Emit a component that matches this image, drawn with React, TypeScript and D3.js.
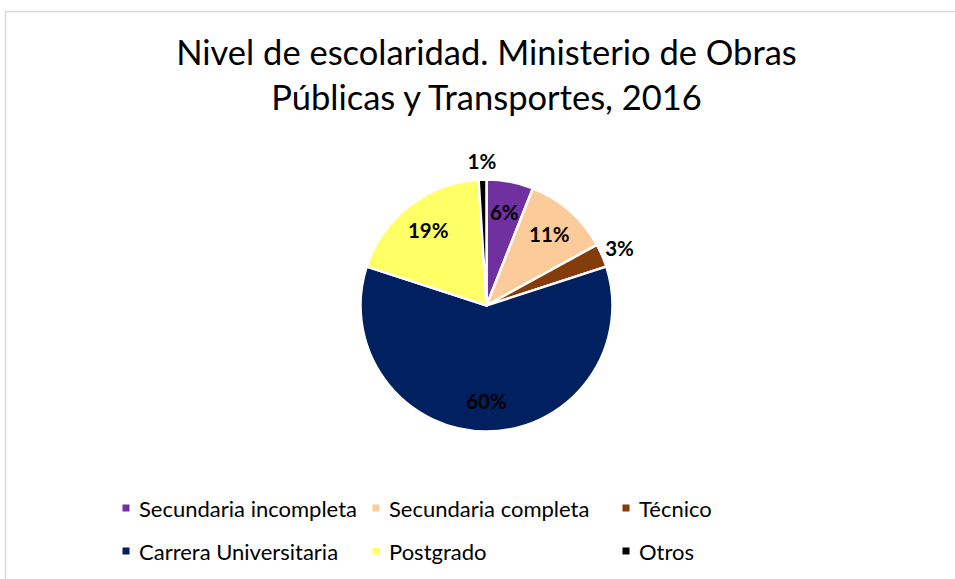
import React from "react";
import * as d3 from "d3";

const categories = [
  "Secundaria incompleta",
  "Secundaria completa",
  "Técnico",
  "Carrera Universitaria",
  "Postgrado",
  "Otros",
];
const values = [6, 11, 3, 60, 19, 1];
const colors = ["#7030A0", "#FCCB9A", "#843C0C", "#002060", "#FFFF66", "#000000"];
const labels = ["6%", "11%", "3%", "60%", "19%", "1%"];
const outsideLabel = [false, false, true, false, false, true];
const titleLines = ["Nivel de escolaridad. Ministerio de Obras", "Públicas y Transportes, 2016"];

const W = 955;
const H = 579;
const FONT = "Lato, 'Open Sans', sans-serif";

export default function App() {
  const cx = 486.5;
  const cy = 305.5;
  const r = 126;
  const pie = d3.pie<number>().sort(null).value((d) => d)(values);
  const arc = d3.arc<d3.PieArcDatum<number>>().innerRadius(0).outerRadius(r);
  const inArc = d3.arc<d3.PieArcDatum<number>>().innerRadius(95).outerRadius(95);
  const outArc = d3.arc<d3.PieArcDatum<number>>().innerRadius(145).outerRadius(145);

  const colX = [126, 376, 626];
  const rowY = [508, 551];

  return (
    <svg
      width={W}
      height={H}
      style={{ position: "absolute", left: 0, top: 0, background: "#fff" }}
    >
      <rect x={0} y={0} width={W} height={H} fill="#fff" />
      <rect x={5.5} y={11.5} width={1200} height={800} fill="none" stroke="#d9d9d9" strokeWidth={1.5} />
      {titleLines.map((t, i) => (
        <text
          key={i}
          x={486.5}
          y={65 + i * 45}
          textAnchor="middle"
          fontFamily={FONT}
          fontSize={34.5}
          fill="#000"
        >
          {t}
        </text>
      ))}
      <g transform={`translate(${cx},${cy})`}>
        {pie.map((d, i) => (
          <path key={i} d={arc(d) || ""} fill={colors[i]} stroke="#fff" strokeWidth={2.5} strokeLinejoin="miter" />
        ))}
        {pie.map((d, i) => {
          const [x, y] = (outsideLabel[i] ? outArc : inArc).centroid(d);
          return (
            <text
              key={"l" + i}
              x={x}
              y={y}
              textAnchor="middle"
              dominantBaseline="central"
              fontFamily={FONT}
              fontWeight="bold"
              fontSize={20.5}
              fill="#000"
            >
              {labels[i]}
            </text>
          );
        })}
      </g>
      {categories.map((c, i) => {
        const col = i % 3;
        const row = Math.floor(i / 3);
        const x = colX[col];
        const y = rowY[row];
        return (
          <g key={"lg" + i}>
            <rect x={x - 3.5} y={y - 3.5} width={7} height={7} fill={colors[i]} />
            <text
              x={x + 13}
              y={y}
              dominantBaseline="central"
              fontFamily={FONT}
              fontSize={22}
              fill="#000"
            >
              {c}
            </text>
          </g>
        );
      })}
    </svg>
  );
}
